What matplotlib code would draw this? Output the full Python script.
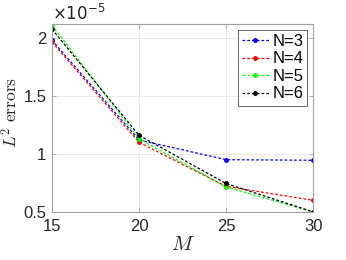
import matplotlib
matplotlib.use("Agg")
import matplotlib.pyplot as plt
from matplotlib.ticker import FuncFormatter

M = [15, 20, 25, 30]
labels = ["N=3", "N=4", "N=5", "N=6"]
# errors in units of 1e-5
err_N3 = [1.98, 1.12, 0.95, 0.945]
err_N4 = [1.965, 1.10, 0.72, 0.60]
err_N5 = [2.11, 1.13, 0.715, 0.50]
err_N6 = [2.075, 1.16, 0.745, 0.50]
colors = ["#0000ff", "#ff0000", "#00ff00", "#000000"]

plt.rcParams['font.family'] = ['Liberation Sans', 'DejaVu Sans']
plt.rcParams['mathtext.fontset'] = 'cm'

fig = plt.figure(figsize=(3.46, 2.60), dpi=100)
ax = fig.add_axes([0.150, 0.185, 0.755, 0.723])

for ys, c, lab in zip([err_N3, err_N4, err_N5, err_N6], colors, labels):
    ax.plot(M, ys, color=c, linestyle=(0, (2.2, 1.6)), linewidth=0.9,
            marker='.', markersize=5, label=lab)

ax.set_xlim(15, 30)
ax.set_ylim(0.5, 2.12)
ax.set_xticks([15, 20, 25, 30])
ax.set_yticks([0.5, 1, 1.5, 2])
ax.yaxis.set_major_formatter(FuncFormatter(lambda v, p: f"{v:g}"))
ax.grid(True, color='#e6e6e6', linewidth=0.6)
ax.set_axisbelow(True)
for s in ax.spines.values():
    s.set_color('#a0a0a0')
    s.set_linewidth(0.8)
ax.tick_params(direction='in', length=3, width=0.6, color='#a0a0a0',
               labelsize=12, labelcolor='#262626', top=True, right=True)
ax.tick_params(axis='x', pad=5)
ax.tick_params(axis='y', pad=4)

ax.set_xlabel('$M$', fontsize=15, color='#262626', labelpad=1)
ax.set_ylabel(r'$L^2\ \mathrm{errors}$', fontsize=12.5, color='#262626')
ax.yaxis.set_label_coords(-0.122, 0.53)
ax.text(0.0, 1.005, r'$\times10^{-5}$', transform=ax.transAxes, fontsize=12,
        color='#262626', ha='left', va='bottom',
        math_fontfamily='dejavusans')

leg = ax.legend(loc='upper right', fontsize=12, frameon=True, fancybox=False,
                handlelength=1.6, handletextpad=0.2, borderpad=0.25,
                labelspacing=0.15, borderaxespad=0.35)
leg.get_frame().set_edgecolor('#262626')
leg.get_frame().set_linewidth(0.6)

fig.savefig('out.png', dpi=100)
